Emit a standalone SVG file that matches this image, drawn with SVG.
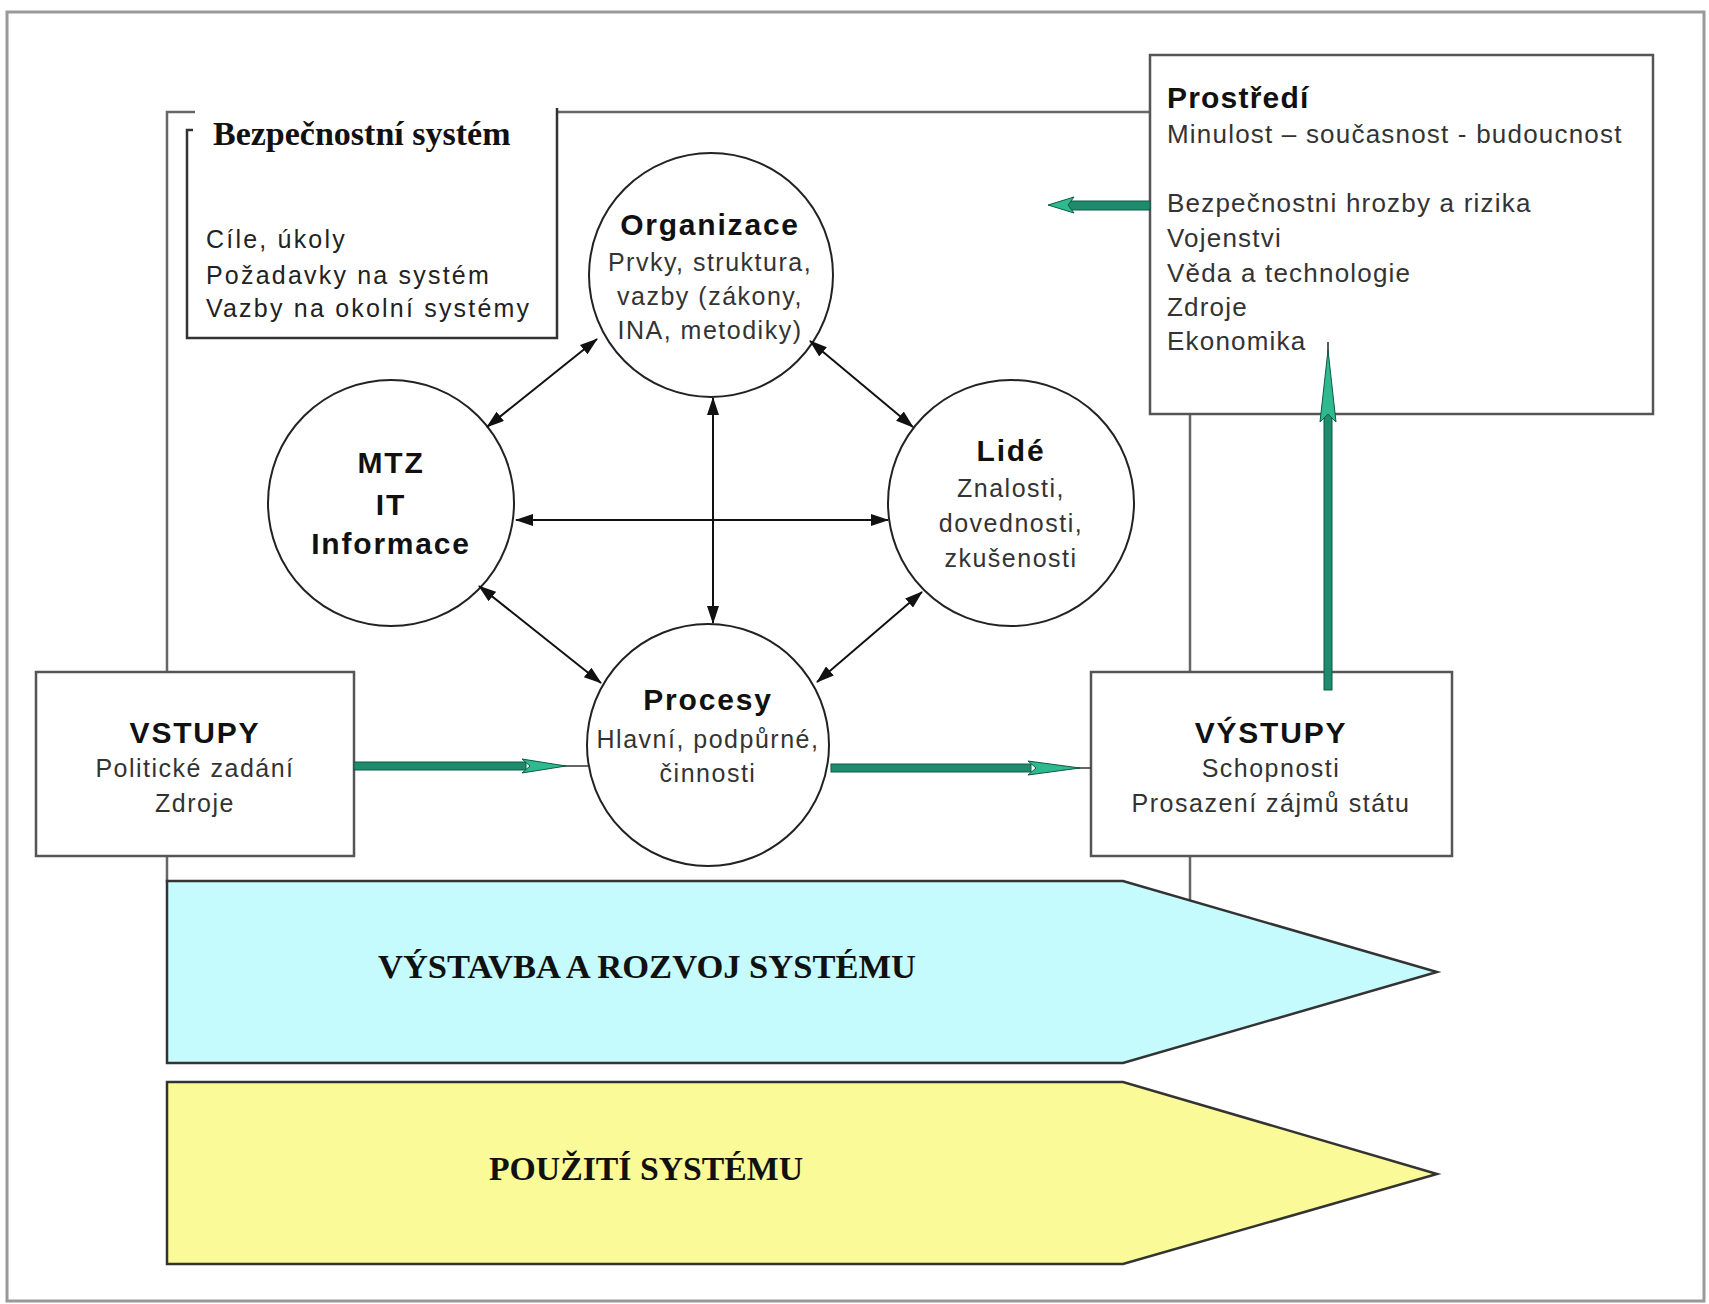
<svg xmlns="http://www.w3.org/2000/svg" width="1709" height="1304" viewBox="0 0 1709 1304">
<style>
.box{fill:#fff;stroke:#555;stroke-width:2.5}
.circ{fill:#fff;stroke:#222;stroke-width:2}
.frame{fill:none;stroke:#666;stroke-width:2.5}
.conn{stroke:#111;stroke-width:2;fill:none;marker-start:url(#ah);marker-end:url(#ah)}
.b{font-family:"Liberation Sans",Arial,sans-serif;font-weight:bold;font-size:30px;letter-spacing:1.8px;fill:#111;text-anchor:middle}
.r{font-family:"Liberation Sans",Arial,sans-serif;font-size:25px;letter-spacing:1.5px;fill:#333;text-anchor:middle}
.rl{font-family:"Liberation Sans",Arial,sans-serif;font-size:26px;letter-spacing:1.2px;fill:#333}
.px{font-family:"Liberation Sans",Arial,sans-serif;font-size:25px;letter-spacing:2.2px;fill:#222}
.tm{font-family:"Liberation Serif","Times New Roman",serif;font-weight:bold;fill:#111}
.gs{fill:#1f8a6c;stroke:#0f5a45;stroke-width:1}
.gh{fill:#2fb98f;stroke:#0f5a45;stroke-width:1}
</style>
<defs>
<marker id="ah" viewBox="0 0 18 12" refX="17" refY="6" markerWidth="18" markerHeight="12" markerUnits="userSpaceOnUse" orient="auto-start-reverse">
<path d="M0,0 L18,6 L0,12 Z" fill="#111"/>
</marker>
</defs>
<rect x="0" y="0" width="1709" height="1304" fill="#fff"/>
<rect x="7" y="12" width="1697" height="1289" fill="none" stroke="#999" stroke-width="3"/>

<g id="frame">
<path class="frame" d="M167,882 V112 H1190 V902"/>
</g>

<g id="bezpecnostni-system">
<path d="M195,104 H557 V338 H187 V125 H195 Z" fill="#fff"/>
<path d="M193,130 H187 V338 H557 V108" fill="none" stroke="#333" stroke-width="2.5"/>
<text class="tm" x="213" y="145" font-size="34">Bezpečnostní systém</text>
<text class="px" x="206" y="248">Cíle, úkoly</text>
<text class="px" x="206" y="284">Požadavky na systém</text>
<text class="px" x="206" y="317">Vazby na okolní systémy</text>
</g>

<g id="prostredi">
<rect class="box" x="1150" y="55" width="503" height="359"/>
<text x="1167" y="108" style="font-family:'Liberation Sans',Arial,sans-serif;font-weight:bold;font-size:30px;letter-spacing:1.2px;fill:#111">Prostředí</text>
<text class="rl" x="1167" y="143">Minulost – současnost - budoucnost</text>
<text class="rl" x="1167" y="212">Bezpečnostni hrozby a rizika</text>
<text class="rl" x="1167" y="247">Vojenstvi</text>
<text class="rl" x="1167" y="282">Věda a technologie</text>
<text class="rl" x="1167" y="316">Zdroje</text>
<text class="rl" x="1167" y="350">Ekonomika</text>
</g>

<g id="vstupy">
<rect class="box" x="36" y="672" width="318" height="184"/>
<text class="b" x="195" y="743">VSTUPY</text>
<text class="r" x="195" y="777">Politické zadání</text>
<text class="r" x="195" y="812">Zdroje</text>
</g>

<g id="vystupy">
<rect class="box" x="1091" y="672" width="361" height="184"/>
<text class="b" x="1271" y="743">VÝSTUPY</text>
<text class="r" x="1271" y="777">Schopnosti</text>
<text class="r" x="1271" y="812">Prosazení zájmů státu</text>
</g>

<g id="vystavba">
<path d="M167,881 H1123 L1437,972 L1123,1063 H167 Z" fill="#c6fbfd" stroke="#333" stroke-width="2.5"/>
<text class="tm" x="378" y="978" font-size="33" fill="#1c2e38" textLength="538" lengthAdjust="spacingAndGlyphs">VÝSTAVBA A ROZVOJ SYSTÉMU</text>
</g>

<g id="pouziti">
<path d="M167,1082 H1123 L1437,1174 L1123,1264 H167 Z" fill="#fafa98" stroke="#333" stroke-width="2.5"/>
<text class="tm" x="489" y="1180" font-size="33" fill="#1c2e38" textLength="314" lengthAdjust="spacingAndGlyphs">POUŽITÍ SYSTÉMU</text>
</g>

<g id="organizace">
<circle class="circ" cx="711" cy="275" r="122"/>
<text class="b" x="710" y="235">Organizace</text>
<text class="r" x="710" y="271">Prvky, struktura,</text>
<text class="r" x="710" y="305">vazby (zákony,</text>
<text class="r" x="710" y="339">INA, metodiky)</text>
</g>

<g id="mtz">
<circle class="circ" cx="391" cy="503" r="123"/>
<text class="b" x="391" y="473">MTZ</text>
<text class="b" x="391" y="515">IT</text>
<text class="b" x="391" y="554">Informace</text>
</g>

<g id="lide">
<circle class="circ" cx="1011" cy="503" r="123"/>
<text class="b" x="1011" y="461">Lidé</text>
<text class="r" x="1011" y="497">Znalosti,</text>
<text class="r" x="1011" y="532">dovednosti,</text>
<text class="r" x="1011" y="567">zkušenosti</text>
</g>

<g id="procesy">
<circle class="circ" cx="708" cy="745" r="121"/>
<text class="b" x="708" y="710">Procesy</text>
<text class="r" x="708" y="748">Hlavní, podpůrné,</text>
<text class="r" x="708" y="782">činnosti</text>
</g>

<g id="connectors">
<line class="conn" x1="597" y1="339" x2="487" y2="427"/>
<line class="conn" x1="810" y1="341" x2="913" y2="427"/>
<line class="conn" x1="713" y1="398" x2="713" y2="623"/>
<line class="conn" x1="516" y1="520" x2="888" y2="520"/>
<line class="conn" x1="479" y1="586" x2="601" y2="683"/>
<line class="conn" x1="922" y1="592" x2="817" y2="682"/>
<line x1="555" y1="766" x2="588" y2="766" stroke="#333" stroke-width="1.5"/>
<rect class="gs" x="354" y="762" width="172" height="8"/>
<path class="gh" d="M522,759 L566,766 L522,773 L530,766 Z"/>
<line x1="1070" y1="768" x2="1091" y2="768" stroke="#333" stroke-width="1.5"/>
<rect class="gs" x="831" y="764" width="200" height="8"/>
<path class="gh" d="M1028,761 L1080,768 L1028,775 L1036,768 Z"/>
<rect class="gs" x="1324" y="410" width="8" height="280"/>
<line x1="1328" y1="342" x2="1328" y2="372" stroke="#222" stroke-width="1.5"/>
<path class="gh" d="M1328,350 L1336,422 L1328,414 L1320,422 Z"/>
<rect class="gs" x="1068" y="201" width="82" height="9"/>
<path class="gh" d="M1048,205 L1074,197 L1068,205 L1074,213 Z"/>
</g>
</svg>
